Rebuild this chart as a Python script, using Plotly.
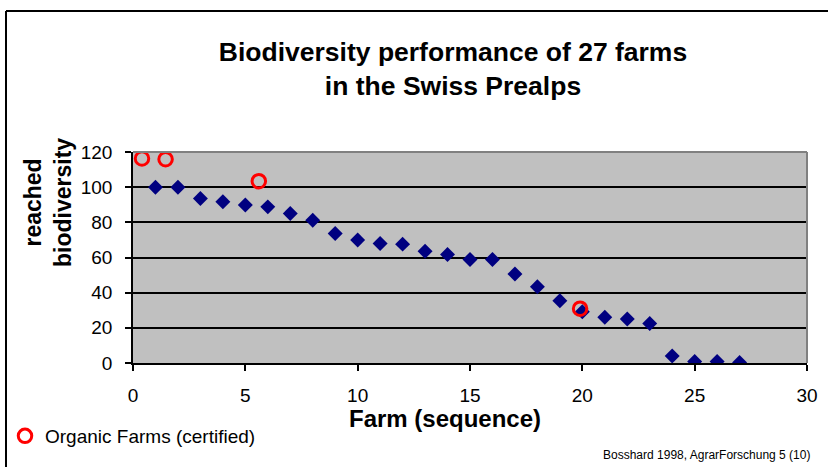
import plotly.graph_objects as go

farm = list(range(1, 28))
biodiversity = [100, 100, 93.6, 91.7, 89.8, 88.8, 85, 81.2, 73.7, 69.9, 68, 67.6, 63.5, 61.7,
                58.9, 58.9, 50.6, 43.4, 35.4, 29.2, 26, 25, 22.5, 4, 0.8, 0.8, 0.3]
organic_x = [0.4, 1.45, 5.6, 19.9]
organic_y = [116.3, 115.9, 103.4, 30.9]

FONT = "Liberation Sans, Arial, sans-serif"
W, H = 828, 467
L, R, T, B = 133, 21, 152, 104
pw, ph = W - L - R, H - T - B

def px(x):
    return (x - L) / pw

def py(y):
    return (H - B - y) / ph

fig = go.Figure()
fig.add_trace(go.Scatter(
    x=farm, y=biodiversity, mode="markers", showlegend=False,
    marker=dict(symbol="diamond", size=11.5, color="#000080", line=dict(width=0)),
))
fig.add_trace(go.Scatter(
    x=organic_x, y=organic_y, mode="markers", name="Organic Farms (certified)",
    marker=dict(symbol="circle-open", size=13.5, color="#ff0000", line=dict(width=3, color="#ff0000")),
))

fig.update_layout(
    width=W, height=H,
    margin=dict(l=L, r=R, t=T, b=B, pad=0, autoexpand=False),
    paper_bgcolor="white", plot_bgcolor="#c0c0c0",
    font=dict(family=FONT, color="black", size=19),
    title=dict(text="<b>Biodiversity performance of 27 farms<br>in the Swiss Prealps</b>",
               x=453 / W, y=1 - 61 / H, xanchor="center", yanchor="middle",
               font=dict(size=26.5, family=FONT, color="black")),
    xaxis=dict(range=[0, 30], tickvals=[0, 5, 10, 15, 20, 25, 30], showgrid=False, zeroline=False,
               showline=True, linecolor="black", linewidth=1.5, ticks="outside", ticklen=6,
               tickcolor="black", tickwidth=1.5, ticklabelstandoff=8, tickfont=dict(size=19)),
    yaxis=dict(range=[0, 120], tickvals=[0, 20, 40, 60, 80, 100, 120], showgrid=True,
               gridcolor="black", gridwidth=1.5, zeroline=False,
               showline=True, linecolor="black", linewidth=1.5, ticks="outside", ticklen=6,
               tickcolor="black", tickwidth=1.5, ticklabelstandoff=9, tickfont=dict(size=19)),
    legend=dict(xref="container", yref="container", x=5 / W, y=1 - 436 / H,
                xanchor="left", yanchor="middle", bgcolor="rgba(0,0,0,0)",
                font=dict(size=19, family=FONT), itemwidth=30, borderwidth=0),
    shapes=[
        dict(type="line", xref="paper", yref="paper", x0=0, x1=1, y0=1, y1=1,
             line=dict(color="#808080", width=2), layer="above"),
        dict(type="line", xref="paper", yref="paper", x0=1, x1=1, y0=0, y1=1,
             line=dict(color="#808080", width=2), layer="above"),
        dict(type="line", xref="paper", yref="paper", x0=px(6), x1=px(6), y0=py(11), y1=py(H + 5),
             line=dict(color="black", width=2)),
        dict(type="line", xref="paper", yref="paper", x0=px(6), x1=px(W + 5), y0=py(11), y1=py(11),
             line=dict(color="black", width=2)),
    ],
    annotations=[
        dict(text="<b>reached<br>biodiversity</b>", textangle=-90, xref="paper", yref="paper",
             x=px(48), y=py(203), xanchor="center", yanchor="middle", showarrow=False,
             font=dict(size=23, family=FONT)),
        dict(text="<b>Farm (sequence)</b>", xref="paper", yref="paper",
             x=px(445), y=py(418), xanchor="center", yanchor="middle", showarrow=False,
             font=dict(size=24, family=FONT)),
        dict(text="Bosshard 1998, AgrarForschung 5 (10)", xref="paper", yref="paper",
             x=px(812), y=py(455), xanchor="right", yanchor="middle", showarrow=False,
             font=dict(size=12, family=FONT)),
    ],
)

fig.write_html("out.html", config={"displayModeBar": False},
               post_script="document.body.style.margin='0';document.body.style.padding='0';"
                           "document.body.style.overflow='hidden';")
